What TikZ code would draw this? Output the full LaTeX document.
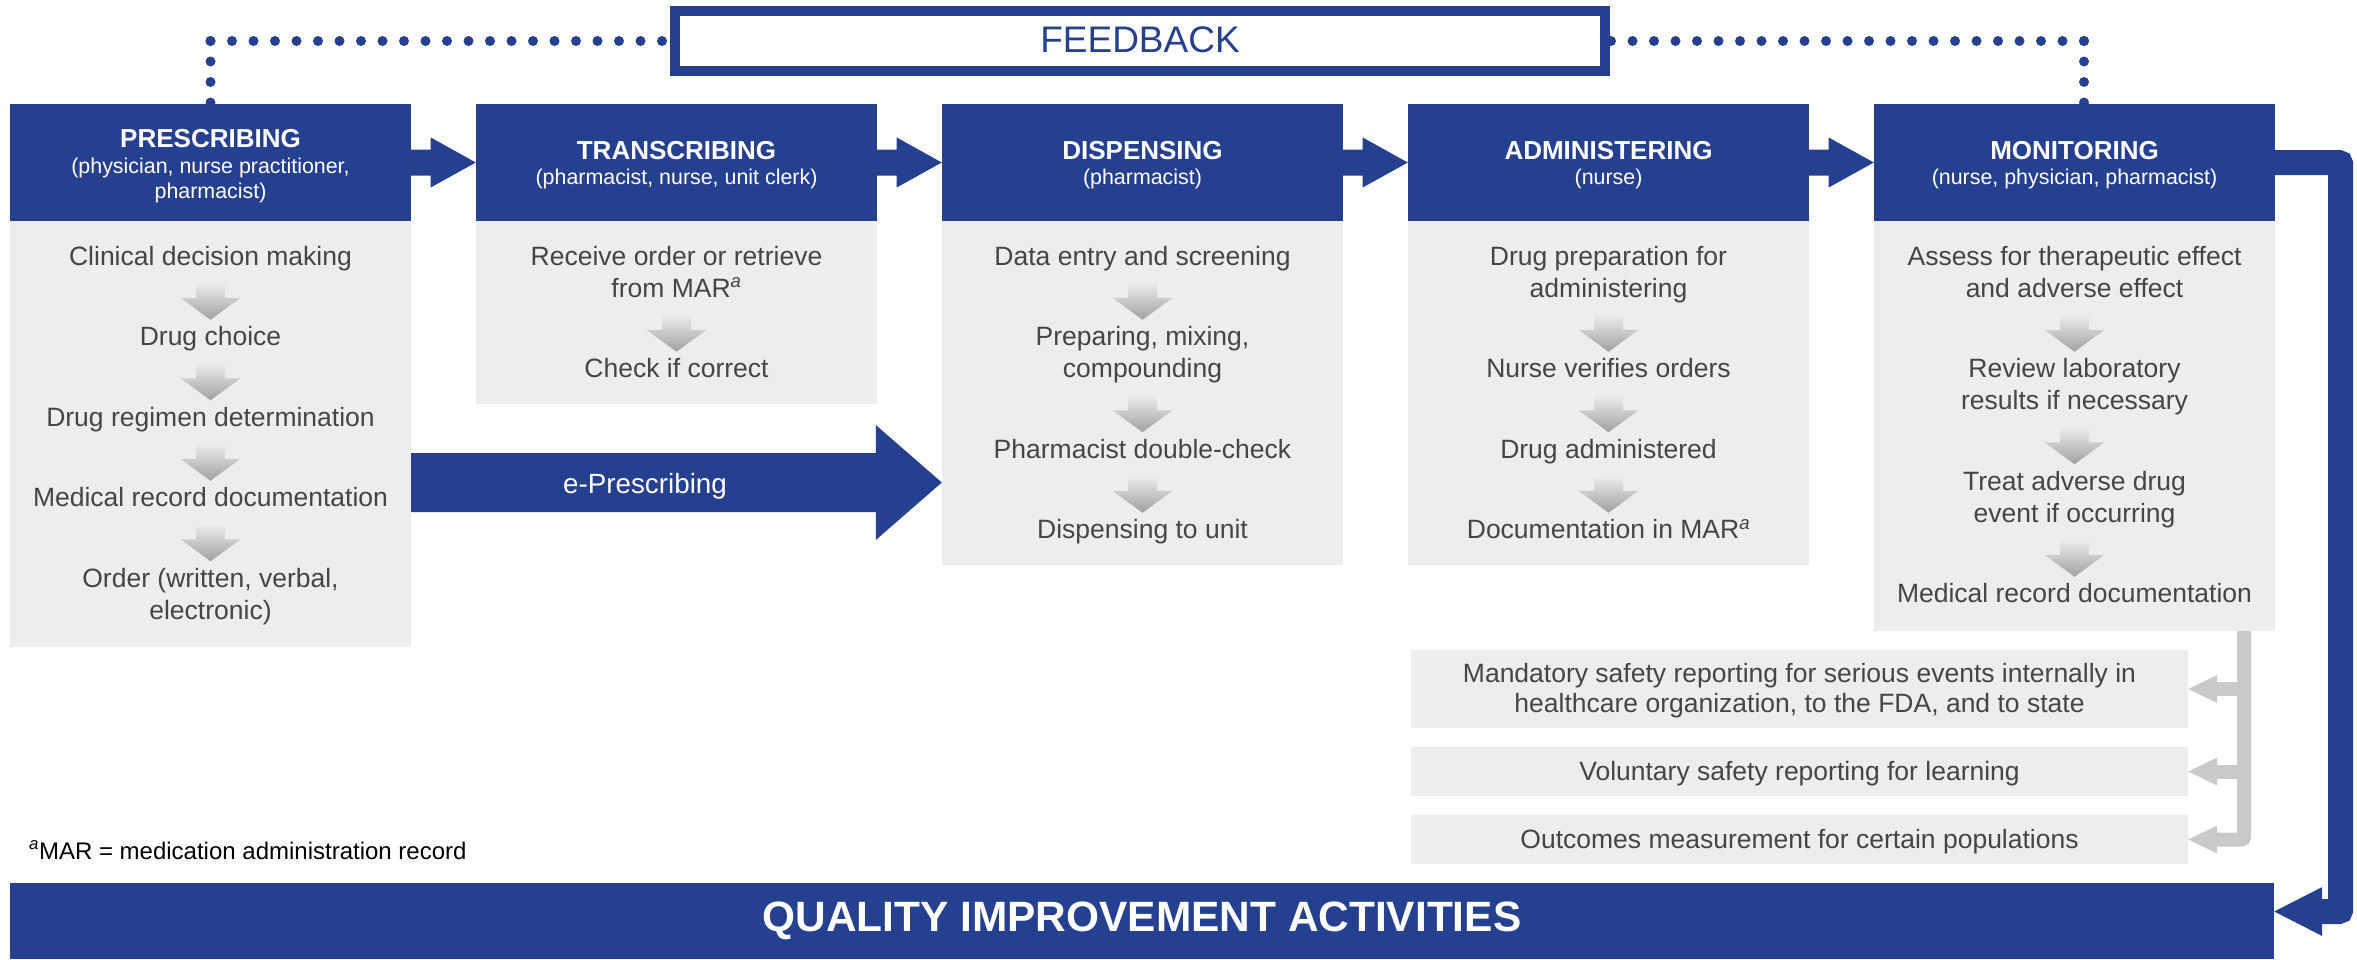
\documentclass[tikz,border=0pt]{standalone}
\usepackage{fontspec}
\setmainfont{Liberation Sans}
\usetikzlibrary{calc}
\definecolor{qblue}{HTML}{25408F}
\definecolor{qgray}{HTML}{EDEDED}
\definecolor{qtext}{HTML}{454545}
\definecolor{qconn}{HTML}{C9C9C9}
\definecolor{qarr}{HTML}{A0A0A0}
\newcommand\bline[4]{\node[body] (#1) at (#2,#3) {#4};}
\newcommand\grarrow[2]{%
  \coordinate (ga) at ($(#1.base)!0.5!(#2.base)+(0,-22.5)$);
  \shade[top color=qgray, bottom color=qarr] ($(ga)+(-14.5,0)$) -- ++(29,0) -- ++(0,15) -- ++(15.5,0) -- ++(-30,22) -- ++(-30,-22) -- ++(15.5,0) -- cycle;}
\newcommand\harr[2]{%
  \fill[qblue] ($(#1.east)+(0,-13)$) -- ++(19.5,0) -- ++(0,-12) -- (#2.west) -- ($(#1.east)+(19.5,25)$) -- ++(0,-12) -- ++(-19.5,0) -- cycle;}
\newcommand\supa{\textsuperscript{\textit{a}}}
\begin{document}
\begin{tikzpicture}[x=1pt,y=-1pt,
  hdr/.style={fill=qblue, draw=none, minimum width=401pt, minimum height=117pt, inner sep=0pt},
  bodybox/.style={fill=qgray, draw=none, minimum width=401pt, inner sep=0pt},
  repbox/.style={fill=qgray, draw=none, minimum width=777pt, inner sep=0pt},
  ttl/.style={anchor=base, text=white, font=\fontsize{26}{30}\selectfont\bfseries, inner sep=0pt},
  subt/.style={anchor=base, text=white, font=\fontsize{21.4}{25}\selectfont, inner sep=0pt},
  body/.style={anchor=base, text=qtext, font=\fontsize{26.5}{32}\selectfont, inner sep=0pt},
  dotline/.style={qblue, line width=10pt, line cap=round, dash pattern=on 0pt off 21.5pt},
  dotlinev/.style={qblue, line width=10pt, line cap=round, dash pattern=on 0pt off 20.5pt},
  grayconn/.style={qconn, line width=14pt},
  fbox/.style={draw=qblue, line width=10pt, fill=white, minimum width=930pt, minimum height=60pt, inner sep=0pt},
]
\useasboundingbox (0,0) rectangle (2357,959);

% anchor coordinates for the feedback loop
\coordinate (fbc) at (1140,41);
\coordinate (h1c) at (210.5,162.5);
\coordinate (h5c) at (2074.5,162.5);
\coordinate (cL) at (h1c |- fbc);
\coordinate (cR) at ($(h5c |- fbc)+(9.5,0)$);
\coordinate (cRb) at ($(h5c)+(9.5,-58.5)$);
\coordinate (cLb) at ($(h1c)+(0,-58.5)$);

% dotted feedback lines (drawn first, boxes cover their ends)
\draw[dotline] (cL) -- ($(fbc)+(-470,0)$);
\draw[dotlinev] (cL) -- (cLb);
\draw[dotline] (cR) -- ($(fbc)+(470,0)$);
\draw[dotlinev] (cR) -- (cRb);

% feedback box
\node[fbox] (fb) at (fbc) {};
\node[anchor=base, text=qblue, font=\fontsize{37}{40}\selectfont, inner sep=0pt] (fbt) at (1140,52) {FEEDBACK};

% headers
\node[hdr] (h1) at (h1c) {};
\node[hdr] (h2) at (676.5,162.5) {};
\node[hdr] (h3) at (1142.5,162.5) {};
\node[hdr] (h4) at (1608.5,162.5) {};
\node[hdr] (h5) at (h5c) {};

% header texts
\node[ttl] (t1) at (210.5,147) {PRESCRIBING};
\node[subt] (s1a) at (210.5,173) {(physician, nurse practitioner,};
\node[subt] (s1b) at (210.5,198) {pharmacist)};
\node[ttl] (t2) at (676.5,159) {TRANSCRIBING};
\node[subt] (s2) at (676.5,184) {(pharmacist, nurse, unit clerk)};
\node[ttl] (t3) at (1142.5,159) {DISPENSING};
\node[subt] (s3) at (1142.5,184) {(pharmacist)};
\node[ttl] (t4) at (1608.5,159) {ADMINISTERING};
\node[subt] (s4) at (1608.5,184) {(nurse)};
\node[ttl] (t5) at (2074.5,159) {MONITORING};
\node[subt] (s5) at (2074.5,184) {(nurse, physician, pharmacist)};

% header arrows
\harr{h1}{h2}
\harr{h2}{h3}
\harr{h3}{h4}
\harr{h4}{h5}

% bodies
\node[bodybox, minimum height=426pt] (b1) at (210.5,434) {};
\node[bodybox, minimum height=183pt] (b2) at (676.5,312.5) {};
\node[bodybox, minimum height=344pt] (b3) at (1142.5,393) {};
\node[bodybox, minimum height=344pt] (b4) at (1608.5,393) {};
\node[bodybox, minimum height=410pt] (b5) at (2074.5,426) {};

% prescribing
\bline{p1}{210.5}{265}{Clinical decision making}
\bline{p2}{210.5}{345.5}{Drug choice}
\bline{p3}{210.5}{426}{Drug regimen determination}
\bline{p4}{210.5}{506.5}{Medical record documentation}
\bline{p5}{210.5}{587}{Order (written, verbal,}
\bline{p5b}{210.5}{619}{electronic)}
\grarrow{p1}{p2}
\grarrow{p2}{p3}
\grarrow{p3}{p4}
\grarrow{p4}{p5}

% transcribing
\bline{r1}{676.5}{265}{Receive order or retrieve}
\bline{r1b}{676.5}{297}{from MAR\supa}
\bline{r2}{676.5}{377.5}{Check if correct}
\grarrow{r1b}{r2}

% dispensing
\bline{d1}{1142.5}{265}{Data entry and screening}
\bline{d2}{1142.5}{345.5}{Preparing, mixing,}
\bline{d2b}{1142.5}{377.5}{compounding}
\bline{d3}{1142.5}{458}{Pharmacist double-check}
\bline{d4}{1142.5}{538.5}{Dispensing to unit}
\grarrow{d1}{d2}
\grarrow{d2b}{d3}
\grarrow{d3}{d4}

% administering
\bline{a1}{1608.5}{265}{Drug preparation for}
\bline{a1b}{1608.5}{297}{administering}
\bline{a2}{1608.5}{377.5}{Nurse verifies orders}
\bline{a3}{1608.5}{458}{Drug administered}
\bline{a4}{1608.5}{538.5}{Documentation in MAR\supa}
\grarrow{a1b}{a2}
\grarrow{a2}{a3}
\grarrow{a3}{a4}

% monitoring
\bline{m1t}{2074.5}{265}{Assess for therapeutic effect}
\bline{m1tb}{2074.5}{297}{and adverse effect}
\bline{m2t}{2074.5}{377.5}{Review laboratory}
\bline{m2tb}{2074.5}{409.5}{results if necessary}
\bline{m3t}{2074.5}{490}{Treat adverse drug}
\bline{m3tb}{2074.5}{522}{event if occurring}
\bline{m4t}{2074.5}{602.5}{Medical record documentation}
\grarrow{m1tb}{m2t}
\grarrow{m2tb}{m3t}
\grarrow{m3tb}{m4t}

% e-prescribing arrow
\coordinate (eY) at (0,482.5);
\coordinate (eA) at (b1.east |- eY);
\coordinate (eT) at (b3.west |- eY);
\fill[qblue] ($(eA)+(0,-29.5)$) -- ($(eT)+(-66,-29.5)$) -- ($(eT)+(-66,-57.5)$) -- (eT) -- ($(eT)+(-66,57.5)$) -- ($(eT)+(-66,29.5)$) -- ($(eA)+(0,29.5)$) -- cycle;
\node[anchor=base, text=white, font=\fontsize{27.8}{32}\selectfont, inner sep=0pt] (ep) at (645,493) {e-Prescribing};

% reporting boxes
\node[repbox, minimum height=78pt] (q1) at (1799.5,689) {};
\node[repbox, minimum height=49pt] (q2) at (1799.5,771.5) {};
\node[repbox, minimum height=49pt] (q3) at (1799.5,839.5) {};
\bline{q1a}{1799.5}{682}{Mandatory safety reporting for serious events internally in}
\bline{q1b}{1799.5}{712}{healthcare organization, to the FDA, and to state}
\bline{q2a}{1799.5}{780}{Voluntary safety reporting for learning}
\bline{q3a}{1799.5}{848}{Outcomes measurement for certain populations}

% gray connector
\coordinate (gt) at ($(b5.south east)+(-31,0)$);
\coordinate (gb) at (gt |- q3.east);
\draw[grayconn, rounded corners=3pt] (gt) -- (gb) -- ($(q3.east)+(28,0)$);
\draw[grayconn] (gt |- q1.east) -- ($(q1.east)+(28,0)$);
\draw[grayconn] (gt |- q2.east) -- ($(q2.east)+(28,0)$);
\foreach \q in {q1,q2,q3}{
  \fill[qconn] ($(\q.east)+(29,-14)$) -- (\q.east) -- ($(\q.east)+(29,14)$) -- cycle;
}

% footnote
\node[anchor=base west, text=black, font=\fontsize{24}{27}\selectfont, inner sep=0pt] (fn) at (29,859) {\supa MAR = medication administration record};

% quality improvement bar
\node[fill=qblue, minimum width=2264pt, minimum height=76pt, inner sep=0pt, text=white, font=\fontsize{42.4}{46}\selectfont\bfseries] (qi) at (1142,921) {QUALITY IMPROVEMENT ACTIVITIES};

% blue connector monitoring -> QI
\coordinate (rc1) at ($(h5.east)+(65.5,0)$);
\coordinate (qtip) at ($(qi.east)+(0,-9.5)$);
\coordinate (rc2) at (rc1 |- qtip);
\coordinate (qhb) at ($(qtip)+(48,0)$);
\draw[qblue, line width=25pt, rounded corners=2pt] (h5.east) -- (rc1) -- (rc2) -- ($(qhb)+(-1,0)$);
\fill[qblue] ($(qhb)+(0,-24.5)$) -- (qtip) -- ($(qhb)+(0,24.5)$) -- cycle;
\end{tikzpicture}
\end{document}
